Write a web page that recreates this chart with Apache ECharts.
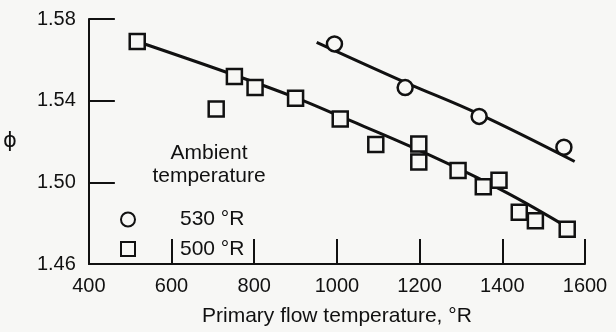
<!DOCTYPE html>
<html>
<head>
<meta charset="utf-8">
<script src="https://cdn.jsdelivr.net/npm/echarts@6/dist/echarts.min.js"></script>
<style>
  html, body { margin: 0; padding: 0; background: #f7f7f5; }
  #chart { width: 616px; height: 332px; }
</style>
</head>
<body>
<div id="chart"></div>
<script>
// measured points
const temp530X = [994, 1165, 1344, 1549];
const temp530Y = [1.5678, 1.5464, 1.5323, 1.5172];
const temp500X = [517, 708, 752, 802, 900, 1008, 1094, 1198, 1198, 1293, 1354, 1392, 1441, 1480, 1557];
const temp500Y = [1.569, 1.5359, 1.5518, 1.5464, 1.5412, 1.531, 1.5185, 1.5188, 1.5099, 1.5058, 1.4978, 1.501, 1.4853, 1.4812, 1.477];

// faired curves through the data
const fit530X = [951, 1165, 1344, 1575];
const fit530Y = [1.5686, 1.549, 1.5334, 1.5102];
const fit500X = [517, 750, 900, 1000, 1200, 1400, 1575];
const fit500Y = [1.569, 1.5527, 1.5415, 1.533, 1.5156, 1.4961, 1.4759];

const yTicks = [1.46, 1.50, 1.54, 1.58];
const seriesNames = ["530 °R", "500 °R"];

const ink = "#111111";
const bg = "#f7f7f5";
const font = "Liberation Sans";

const pairs = (xs, ys) => xs.map((x, i) => [x, ys[i]]);

const chart = echarts.init(document.getElementById("chart"));

const option = {
    backgroundColor: bg,
    animation: false,
    textStyle: { fontFamily: font, color: ink },
    grid: { left: 87, right: 31, top: 19, bottom: 68 },
    xAxis: {
        type: "value",
        min: 400,
        max: 1600,
        interval: 200,
        name: "Primary flow temperature, °R",
        nameLocation: "middle",
        nameGap: 42,
        nameTextStyle: { fontSize: 21, color: ink, fontFamily: font },
        axisLine: { lineStyle: { color: ink, width: 2 } },
        axisTick: { inside: true, length: 25, lineStyle: { color: ink, width: 2 } },
        axisLabel: { fontSize: 20, color: ink, margin: 12, formatter: (v) => String(v) },
        splitLine: { show: false },
    },
    yAxis: {
        type: "value",
        min: 1.46,
        max: 1.58,
        name: "ϕ",
        nameLocation: "middle",
        nameRotate: 0,
        nameGap: 72,
        nameTextStyle: { fontSize: 21, color: ink, fontFamily: "DejaVu Sans", padding: [16, 0, 0, 0] },
        axisLine: { show: true, lineStyle: { color: ink, width: 2 } },
        axisTick: { show: true, inside: true, length: 26, customValues: yTicks, lineStyle: { color: ink, width: 2 } },
        axisLabel: {
            fontSize: 20,
            color: ink,
            margin: 13,
            customValues: yTicks,
            formatter: (v) => v.toFixed(2),
        },
        splitLine: { show: false },
    },
    legend: {
        orient: "vertical",
        left: 120,
        top: 209,
        padding: 0,
        itemWidth: 14,
        itemHeight: 14,
        itemGap: 8.5,
        data: seriesNames,
        textStyle: { fontSize: 21, color: ink, padding: [0, 0, 0, 40], lineHeight: 14 },
    },
    graphic: [
        {
            type: "text",
            x: 209,
            y: 153,
            style: { text: "Ambient", fill: ink, font: "21px " + font, align: "center", verticalAlign: "middle" },
        },
        {
            type: "text",
            x: 209,
            y: 176,
            style: { text: "temperature", fill: ink, font: "21px " + font, align: "center", verticalAlign: "middle" },
        },
    ],
    series: [
        {
            name: "fit530",
            type: "line",
            data: pairs(fit530X, fit530Y),
            smooth: 0.4,
            showSymbol: false,
            lineStyle: { color: ink, width: 3 },
            z: 1,
        },
        {
            name: "fit500",
            type: "line",
            data: pairs(fit500X, fit500Y),
            smooth: 0.4,
            showSymbol: false,
            lineStyle: { color: ink, width: 3 },
            z: 1,
        },
        {
            name: seriesNames[0],
            type: "scatter",
            data: pairs(temp530X, temp530Y),
            symbol: "circle",
            symbolSize: 15,
            itemStyle: { color: bg, borderColor: ink, borderWidth: 2.5, opacity: 1 },
            z: 3,
        },
        {
            name: seriesNames[1],
            type: "scatter",
            data: pairs(temp500X, temp500Y),
            symbol: "rect",
            symbolSize: 15,
            itemStyle: { color: bg, borderColor: ink, borderWidth: 2.5, opacity: 1 },
            z: 3,
        },
    ],
};

chart.setOption(option);
</script>
</body>
</html>
